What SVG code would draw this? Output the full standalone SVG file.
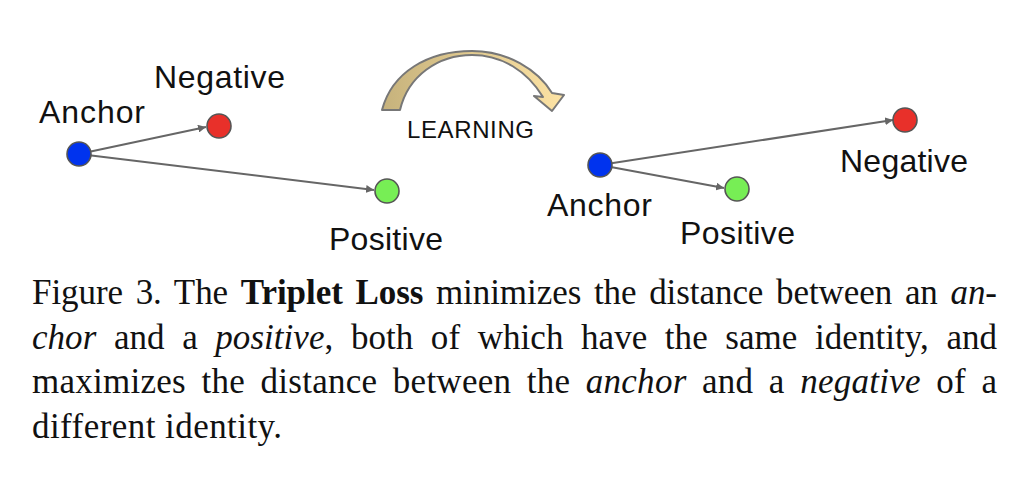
<svg xmlns="http://www.w3.org/2000/svg" width="1024" height="492" viewBox="0 0 1024 492">
<style>
.lbl{font-family:"Liberation Sans",Arial,sans-serif;font-size:32px;fill:#111}
.small{font-family:"Liberation Sans",Arial,sans-serif;font-size:24px;fill:#111}
.cap{font-family:"Liberation Serif","Times New Roman",serif;font-size:35px;fill:#111}
.dot{stroke:#555;stroke-width:1.6}
.edge{stroke:#666;stroke-width:2;fill:none;marker-end:url(#ah)}
</style>
<defs>
<marker id="ah" viewBox="0 0 10 10" refX="10" refY="5" markerWidth="8" markerHeight="8" markerUnits="userSpaceOnUse" orient="auto">
<path d="M0,0 L10,5 L0,10 Z" fill="#666"/>
</marker>
<linearGradient id="gold" x1="0" y1="0" x2="1" y2="0">
<stop offset="0" stop-color="#c6b27c"/>
<stop offset="1" stop-color="#fde3a4"/>
</linearGradient>
</defs>
<rect width="1024" height="492" fill="#fff"/>

<g id="connectors">
<line class="edge" x1="79" y1="154" x2="206" y2="127"/>
<line class="edge" x1="79" y1="154" x2="374" y2="190"/>
<line class="edge" x1="600" y1="165" x2="724" y2="188"/>
<line class="edge" x1="600" y1="165" x2="893" y2="120"/>
</g>

<g id="left-anchor"><circle class="dot" cx="79" cy="154" r="12" fill="#0033ee"/><text class="lbl" x="39" y="123" textLength="106">Anchor</text></g>
<g id="left-negative"><circle class="dot" cx="219" cy="126" r="12" fill="#e8302a"/><text class="lbl" x="154" y="88" textLength="131">Negative</text></g>
<g id="left-positive"><circle class="dot" cx="387" cy="191" r="12" fill="#77ee55"/><text class="lbl" x="329" y="250" textLength="114">Positive</text></g>

<g id="learning">
<path d="M382,110 C392,72 428,51 472,51 C508,51 538,70 552,93 L564,95 L552,111 L534,96 L543,97 C527,71 502,55 472,55 C438,55 408,76 400,110 Z" fill="url(#gold)" stroke="#777" stroke-width="2" stroke-linejoin="round"/>
<text class="small" x="407" y="138" textLength="127">LEARNING</text>
</g>

<g id="right-anchor"><circle class="dot" cx="600" cy="165" r="12" fill="#0033ee"/><text class="lbl" x="547" y="216" textLength="105">Anchor</text></g>
<g id="right-positive"><circle class="dot" cx="737" cy="189" r="12" fill="#77ee55"/><text class="lbl" x="680" y="244" textLength="115">Positive</text></g>
<g id="right-negative"><circle class="dot" cx="905" cy="120" r="12" fill="#e8302a"/><text class="lbl" x="840" y="172" textLength="128">Negative</text></g>

<g id="caption">
<text class="cap" x="32" y="304" word-spacing="4" textLength="965" lengthAdjust="spacing">Figure 3. The <tspan font-weight="bold">Triplet Loss</tspan> minimizes the distance between an <tspan font-style="italic">an-</tspan></text>
<text class="cap" x="32" y="349" word-spacing="8.8" textLength="965" lengthAdjust="spacing"><tspan font-style="italic">chor</tspan> and a <tspan font-style="italic">positive</tspan>, both of which have the same identity, and</text>
<text class="cap" x="32" y="393" word-spacing="6.5" textLength="965" lengthAdjust="spacing">maximizes the distance between the <tspan font-style="italic">anchor</tspan> and a <tspan font-style="italic">negative</tspan> of a</text>
<text class="cap" x="32" y="438" textLength="250" lengthAdjust="spacing">different identity.</text>
</g>
</svg>
